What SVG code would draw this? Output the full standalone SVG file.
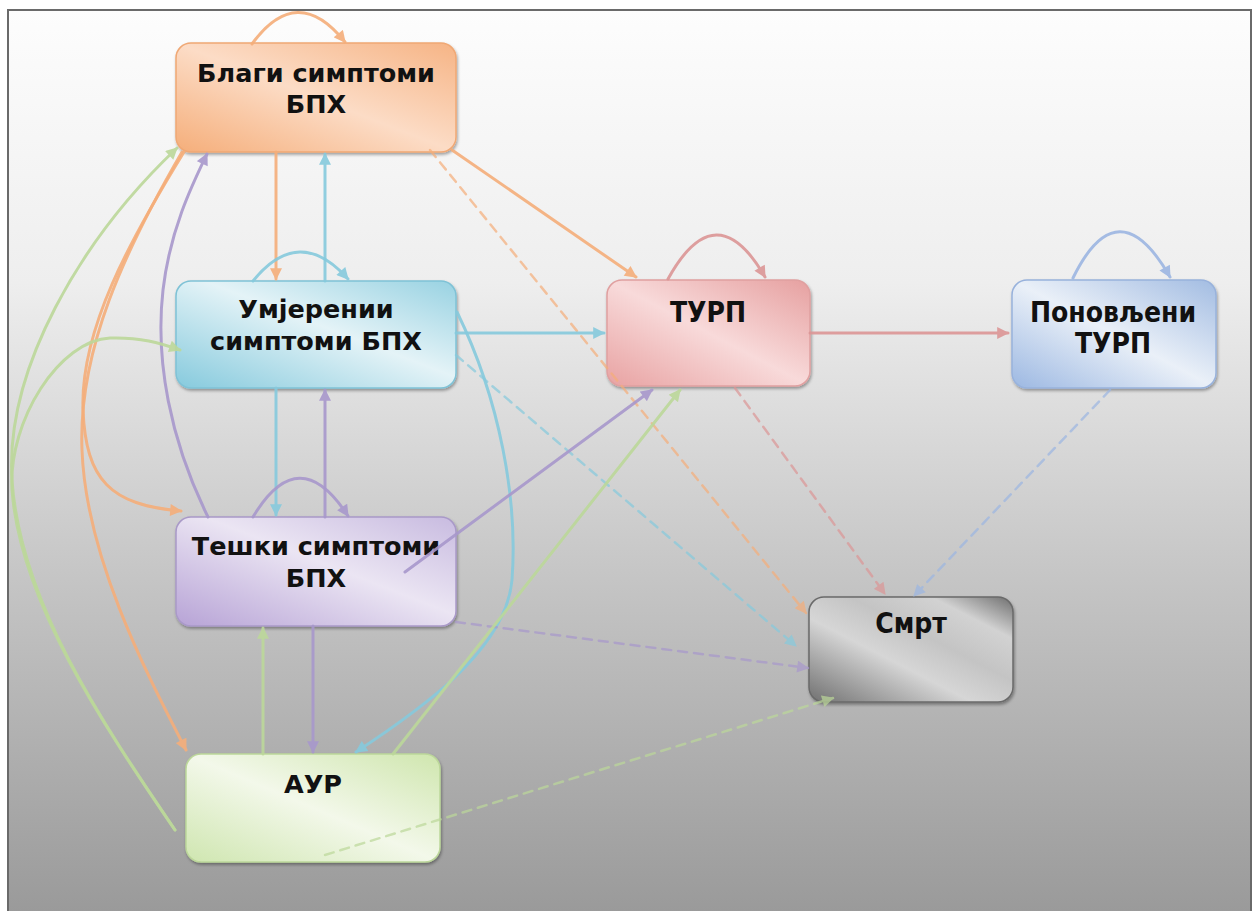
<svg xmlns="http://www.w3.org/2000/svg" width="1253" height="911" viewBox="0 0 1253 911">
  <defs>
    <linearGradient id="bg" x1="0" y1="0" x2="0" y2="1">
      <stop offset="0" stop-color="#fdfdfd"/>
      <stop offset="0.3" stop-color="#eeeeee"/>
      <stop offset="0.6" stop-color="#c8c8c8"/>
      <stop offset="1" stop-color="#999999"/>
    </linearGradient>
    <linearGradient id="gOrange" x1="0" y1="1" x2="1" y2="0">
      <stop offset="0" stop-color="#f5ae7a"/>
      <stop offset="0.5" stop-color="#fcdcc6"/>
      <stop offset="1" stop-color="#f6b485"/>
    </linearGradient>
    <linearGradient id="gBlue" x1="0" y1="1" x2="1" y2="0">
      <stop offset="0" stop-color="#86cadd"/>
      <stop offset="0.55" stop-color="#e4f3f7"/>
      <stop offset="1" stop-color="#98d2e2"/>
    </linearGradient>
    <linearGradient id="gPurple" x1="0" y1="1" x2="1" y2="0">
      <stop offset="0" stop-color="#b7a3d6"/>
      <stop offset="0.55" stop-color="#ebe5f3"/>
      <stop offset="1" stop-color="#c8bbe0"/>
    </linearGradient>
    <linearGradient id="gGreen" x1="0" y1="1" x2="1" y2="0">
      <stop offset="0" stop-color="#cfe6b0"/>
      <stop offset="0.5" stop-color="#f3f8ea"/>
      <stop offset="1" stop-color="#cfe6ae"/>
    </linearGradient>
    <linearGradient id="gRed" x1="0" y1="1" x2="1" y2="0">
      <stop offset="0" stop-color="#e8a2a2"/>
      <stop offset="0.5" stop-color="#f8dada"/>
      <stop offset="1" stop-color="#e6a0a0"/>
    </linearGradient>
    <linearGradient id="gSteel" x1="0" y1="1" x2="1" y2="0">
      <stop offset="0" stop-color="#9cb8e2"/>
      <stop offset="0.5" stop-color="#eaf0f8"/>
      <stop offset="1" stop-color="#a2bce2"/>
    </linearGradient>
    <linearGradient id="gGrey" x1="0" y1="1" x2="1" y2="0">
      <stop offset="0" stop-color="#707070"/>
      <stop offset="0.22" stop-color="#a8a8a8"/>
      <stop offset="0.4" stop-color="#d6d6d6"/>
      <stop offset="0.6" stop-color="#c4c4c4"/>
      <stop offset="0.8" stop-color="#d2d2d2"/>
      <stop offset="1" stop-color="#6e6e6e"/>
    </linearGradient>
    <filter id="shadow" x="-10%" y="-10%" width="120%" height="130%">
      <feDropShadow dx="1" dy="2" stdDeviation="1.5" flood-color="#000" flood-opacity="0.35"/>
    </filter>
    <marker id="aOrange" viewBox="0 0 10 10" refX="9" refY="5" markerUnits="userSpaceOnUse" markerWidth="13" markerHeight="12" orient="auto"><path d="M0,0 L10,5 L0,10 z" fill="#f5ae7a"/></marker>
    <marker id="aBlue" viewBox="0 0 10 10" refX="9" refY="5" markerUnits="userSpaceOnUse" markerWidth="13" markerHeight="12" orient="auto"><path d="M0,0 L10,5 L0,10 z" fill="#86cadd"/></marker>
    <marker id="aPurple" viewBox="0 0 10 10" refX="9" refY="5" markerUnits="userSpaceOnUse" markerWidth="13" markerHeight="12" orient="auto"><path d="M0,0 L10,5 L0,10 z" fill="#a898cc"/></marker>
    <marker id="aGreen" viewBox="0 0 10 10" refX="9" refY="5" markerUnits="userSpaceOnUse" markerWidth="13" markerHeight="12" orient="auto"><path d="M0,0 L10,5 L0,10 z" fill="#bcd89a"/></marker>
    <marker id="aRed" viewBox="0 0 10 10" refX="9" refY="5" markerUnits="userSpaceOnUse" markerWidth="13" markerHeight="12" orient="auto"><path d="M0,0 L10,5 L0,10 z" fill="#dc9696"/></marker>
    <marker id="aSteel" viewBox="0 0 10 10" refX="9" refY="5" markerUnits="userSpaceOnUse" markerWidth="13" markerHeight="12" orient="auto"><path d="M0,0 L10,5 L0,10 z" fill="#9cb6e2"/></marker>
  </defs>
  <style>
    .node rect { filter: url(#shadow); stroke-width: 1.5; }
    .lbl { font-family: "DejaVu Sans", Verdana, sans-serif; font-weight: bold; font-size: 25.5px; fill: #111; text-anchor: middle; }
    .lbl2 { font-family: "DejaVu Sans Condensed", "DejaVu Sans", sans-serif; font-stretch: condensed; font-weight: bold; font-size: 28px; fill: #111; text-anchor: middle; }
    .e { fill: none; stroke-width: 3; stroke-linecap: round; opacity: 0.9; }
    .d { stroke-dasharray: 9 7; stroke-width: 2.5; opacity: 0.7; }
    .or { stroke: #f5ae7a; }
    .bl { stroke: #86cadd; }
    .pu { stroke: #a898cc; }
    .gr { stroke: #bcd89a; }
    .rd { stroke: #dc9696; }
    .st { stroke: #9cb6e2; }
  </style>

  <!-- backdrop with frame -->
  <rect x="0" y="0" width="1253" height="911" fill="#ffffff"/>
  <rect x="8" y="10" width="1243" height="910" fill="url(#bg)" stroke="#6a6a6a" stroke-width="2"/>

  <!-- nodes -->
  <g id="mild" class="node">
    <rect x="176" y="43" width="280" height="109" rx="15" fill="url(#gOrange)" stroke="#f0a874"/>
    <text class="lbl" x="316" y="82">Благи симптоми</text>
    <text class="lbl" x="316" y="113">БПХ</text>
  </g>
  <g id="moderate" class="node">
    <rect x="176" y="281" width="280" height="107" rx="15" fill="url(#gBlue)" stroke="#7fc2d6"/>
    <text class="lbl" x="316" y="318">Умјерении</text>
    <text class="lbl" x="316" y="350">симптоми БПХ</text>
  </g>
  <g id="severe" class="node">
    <rect x="176" y="517" width="280" height="109" rx="15" fill="url(#gPurple)" stroke="#a999c8"/>
    <text class="lbl" x="316" y="555">Тешки симптоми</text>
    <text class="lbl" x="316" y="587">БПХ</text>
  </g>
  <g id="aur" class="node">
    <rect x="186" y="754" width="254" height="108" rx="15" fill="url(#gGreen)" stroke="#bcd79a"/>
    <text class="lbl" x="313" y="793">АУР</text>
  </g>
  <g id="turp" class="node">
    <rect x="607" y="280" width="203" height="106" rx="15" fill="url(#gRed)" stroke="#e0a0a0"/>
    <text class="lbl2" x="708" y="322">ТУРП</text>
  </g>
  <g id="returp" class="node">
    <rect x="1012" y="280" width="204" height="108" rx="15" fill="url(#gSteel)" stroke="#98b2dc"/>
    <text class="lbl2" x="1113" y="322">Поновљени</text>
    <text class="lbl2" x="1113" y="353">ТУРП</text>
  </g>
  <g id="death" class="node">
    <rect x="809" y="597" width="204" height="105" rx="15" fill="url(#gGrey)" stroke="#6a6a6a"/>
    <text class="lbl2" x="911" y="633">Смрт</text>
  </g>

  <!-- connectors -->
  <g id="connectors">
    <!-- from mild symptoms -->
    <path class="e or" d="M252,44 Q297,-18 345,42" marker-end="url(#aOrange)"/>
    <path class="e or" d="M276,152 L276,279" marker-end="url(#aOrange)"/>
    <path class="e or" d="M452,150 L636,277" marker-end="url(#aOrange)"/>
    <path class="e or d" d="M430,150 L806,613" marker-end="url(#aOrange)"/>
    <path class="e or" d="M184,152 C130,240 80,330 83,410 C86,480 110,505 181,511" marker-end="url(#aOrange)"/>
    <path class="e or" d="M182,152 C125,250 78,350 82,450 C86,560 150,680 186,750" marker-end="url(#aOrange)"/>

    <!-- from moderate symptoms -->
    <path class="e bl" d="M253,281 Q299,224 348,279" marker-end="url(#aBlue)"/>
    <path class="e bl" d="M325,281 L325,154" marker-end="url(#aBlue)"/>
    <path class="e bl" d="M276,388 L276,515" marker-end="url(#aBlue)"/>
    <path class="e bl" d="M456,333 L604,333" marker-end="url(#aBlue)"/>
    <path class="e bl d" d="M456,355 L796,646" marker-end="url(#aBlue)"/>
    <path class="e bl" d="M457,312 C500,400 518,500 512,580 C506,650 420,710 356,752" marker-end="url(#aBlue)"/>

    <!-- from severe symptoms -->
    <path class="e pu" d="M253,517 Q299,440 348,516" marker-end="url(#aPurple)"/>
    <path class="e pu" d="M325,517 L325,390" marker-end="url(#aPurple)"/>
    <path class="e pu" d="M208,517 C170,440 155,360 163,290 C170,230 192,185 207,154" marker-end="url(#aPurple)"/>
    <path class="e pu" d="M405,572 L652,390" marker-end="url(#aPurple)"/>
    <path class="e pu" d="M313,626 L313,752" marker-end="url(#aPurple)"/>
    <path class="e pu d" d="M456,622 L808,668" marker-end="url(#aPurple)"/>

    <!-- from acute urinary retention -->
    <path class="e gr" d="M263,754 L263,628" marker-end="url(#aGreen)"/>
    <path class="e gr" d="M393,754 L680,390" marker-end="url(#aGreen)"/>
    <path class="e gr d" d="M325,855 L833,698" marker-end="url(#aGreen)"/>
    <path class="e gr" d="M175,830 C100,720 20,600 12,480 C5,370 80,240 177,148" marker-end="url(#aGreen)"/>
    <path class="e gr" d="M175,830 C100,720 20,600 12,490 C8,420 60,340 110,338 C140,337 160,343 180,350" marker-end="url(#aGreen)"/>

    <!-- from TURP -->
    <path class="e rd" d="M668,279 Q716,192 765,277" marker-end="url(#aRed)"/>
    <path class="e rd" d="M810,333 L1008,333" marker-end="url(#aRed)"/>
    <path class="e rd d" d="M735,388 L885,594" marker-end="url(#aRed)"/>

    <!-- from repeated TURP -->
    <path class="e st" d="M1073,278 Q1118,186 1170,277" marker-end="url(#aSteel)"/>
    <path class="e st d" d="M1110,390 L914,596" marker-end="url(#aSteel)"/>
  </g>
</svg>
